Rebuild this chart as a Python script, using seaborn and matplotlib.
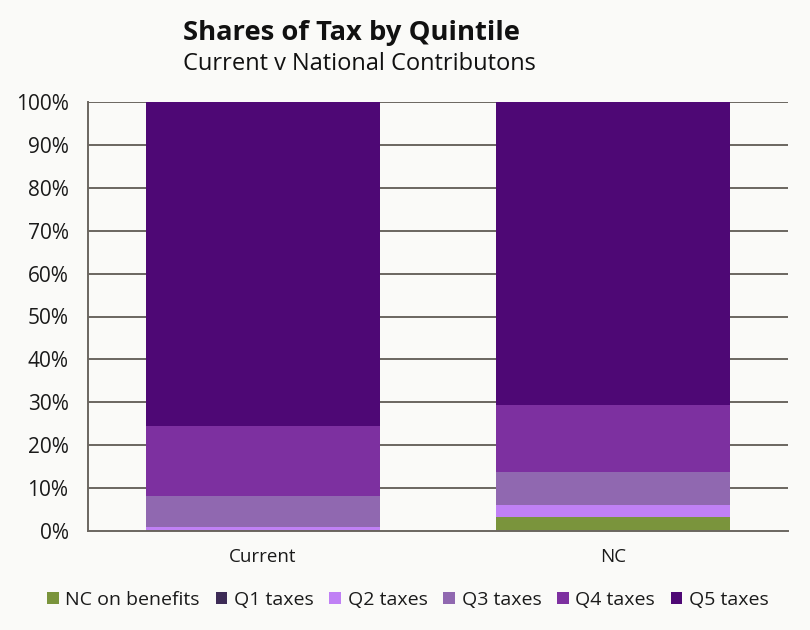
import matplotlib
matplotlib.use("Agg")
import matplotlib.pyplot as plt
import seaborn as sns
import pandas as pd
import numpy as np
from matplotlib.patches import Patch

categories = ["Current", "NC"]
series_names = ["NC on benefits", "Q1 taxes", "Q2 taxes", "Q3 taxes", "Q4 taxes", "Q5 taxes"]
nc_benefits = [0.0, 3.2]
q1_taxes = [0.2, 0.1]
q2_taxes = [0.7, 2.8]
q3_taxes = [7.2, 7.6]
q4_taxes = [16.3, 15.6]
q5_taxes = [75.6, 70.7]
colors = ["#7a943c", "#3d2b56", "#c080f5", "#9068b0", "#7d30a0", "#4e0875"]

values = [nc_benefits, q1_taxes, q2_taxes, q3_taxes, q4_taxes, q5_taxes]

sns.set_theme(style="white")
plt.rcParams['font.family'] = ['Open Sans', 'DejaVu Sans']
bg = "#fafaf8"
fig = plt.figure(figsize=(8.1, 6.3), dpi=100, facecolor=bg)
ax = fig.add_axes([88/810, 1-531/630, 700/810, 429/630])
ax.set_facecolor(bg)

cum = np.cumsum(np.array(values), axis=0)
cum = cum / cum[-1] * 100
rows = []
for i, name in enumerate(series_names):
    for j, c in enumerate(categories):
        rows.append({"cat": c, "series": name, "cum": cum[i, j]})
df = pd.DataFrame(rows)

for i in range(len(series_names) - 1, -1, -1):
    sub = df[df["series"] == series_names[i]]
    sns.barplot(data=sub, x="cat", y="cum", color=colors[i], width=0.67,
                saturation=1, ax=ax, order=categories, zorder=3,
                linewidth=0, edgecolor="none")

ax.set_xlim(-0.5, 1.5)
ax.set_ylim(0, 100)
grid_c = "#6b6660"
for y in range(10, 101, 10):
    ax.axhline(y, color=grid_c, lw=1.4, zorder=1)
ax.set_yticks(range(0, 101, 10))
ax.set_yticklabels([f"{v}%" for v in range(0, 101, 10)], fontsize=15, color="#1a1a1a")
ax.set_xticks([0, 1])
ax.set_xticklabels(categories, fontsize=13.5, color="#1a1a1a")
ax.set_xticks([-0.5, 0.5, 1.5], minor=True)
ax.tick_params(axis="x", which="major", length=0, pad=12)
ax.tick_params(axis="x", which="minor", length=6, width=1.4, color=grid_c, direction="out")
ax.tick_params(axis="y", length=6, width=1.4, color=grid_c, direction="out", pad=8)
ax.set_xlabel("")
ax.set_ylabel("")
for s in ["top", "right"]:
    ax.spines[s].set_visible(False)
for s in ["left", "bottom"]:
    ax.spines[s].set_color(grid_c)
    ax.spines[s].set_linewidth(1.4)
    ax.spines[s].set_zorder(4)

fig.text(183/810, 1-33/630, "Shares of Tax by Quintile", fontsize=19.7, fontweight="bold",
         color="#111111", va="center", ha="left")
fig.text(183/810, 1-64/630, "Current v National Contributons", fontsize=17,
         color="#111111", va="center", ha="left")

handles = [Patch(facecolor=colors[i], edgecolor="none", label=series_names[i]) for i in range(6)]
fig.legend(handles=handles, loc="center", bbox_to_anchor=(408/810, 1-600/630), ncol=6,
           frameon=False, fontsize=14, handlelength=0.6, handleheight=0.6,
           handletextpad=0.35, columnspacing=0.8, labelcolor="#1a1a1a")

fig.savefig("out.png", dpi=100, facecolor=bg)
